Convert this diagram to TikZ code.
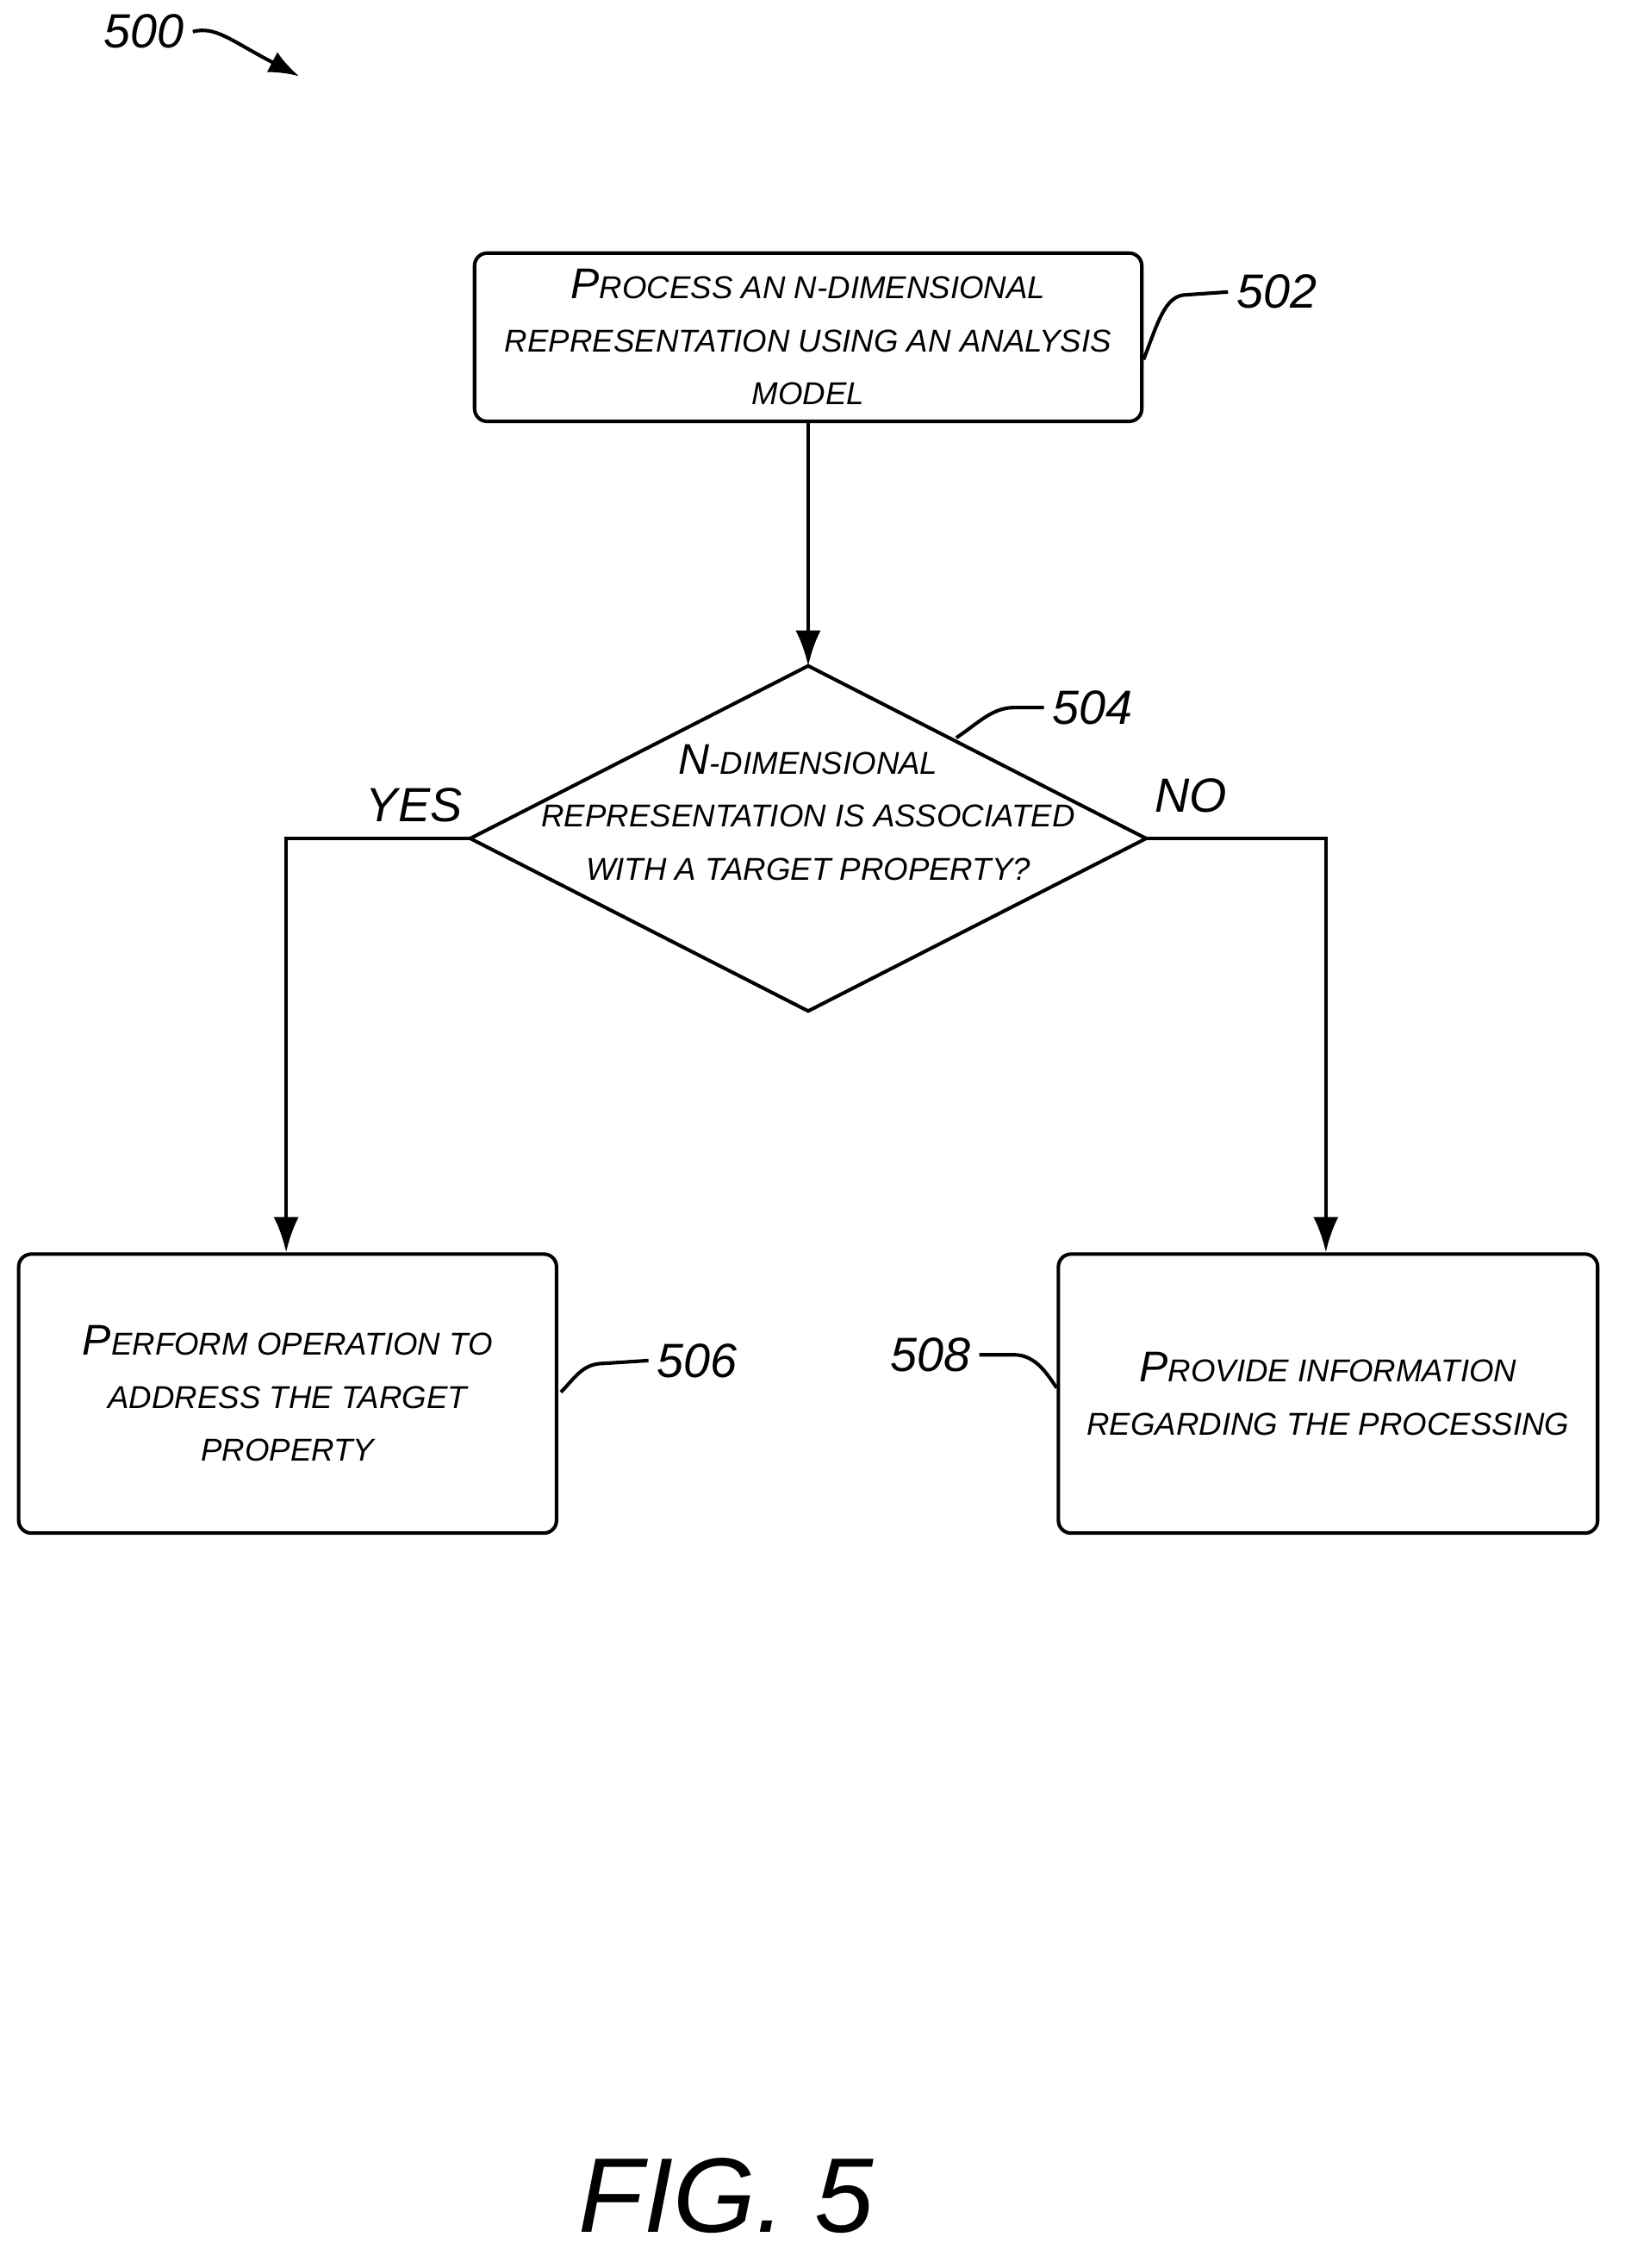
\documentclass[tikz,border=0pt]{standalone}
\usepackage{fontspec}
\setmainfont{Liberation Sans}
\usetikzlibrary{arrows.meta}
\newcommand\bc[1]{{\fontsize{17}{18}\selectfont #1}}
\begin{document}
\begin{tikzpicture}[x=0.02cm,y=-0.02cm,
  every node/.style={font=\itshape\fontsize{12.5}{21}\selectfont},
  box/.style={draw,line width=1.4pt,rounded corners=5pt,align=center,inner sep=2pt},
  ln/.style={line width=1.4pt},
  arr/.style={ln,-{Latex[length=14pt,width=10pt]}},
  num/.style={font=\itshape\fontsize{19}{22}\selectfont}]
\useasboundingbox (0,0) rectangle (1130,1577);
\node[box,minimum width=464*0.02cm,minimum height=117*0.02cm] (b502) at (562,234.5)
  {\bc{P}ROCESS AN N-DIMENSIONAL\\ REPRESENTATION USING AN ANALYSIS\\ MODEL};
\coordinate (dt) at (562,463); \coordinate (dl) at (327,583);
\coordinate (dr) at (797,583); \coordinate (db) at (562,703);
\draw[ln] (dt) -- (dr) -- (db) -- (dl) -- cycle;
\node[align=center] (dtext) at (562,565) {\bc{N}-DIMENSIONAL\\ REPRESENTATION IS ASSOCIATED\\ WITH A TARGET PROPERTY?};
\node[box,minimum width=374*0.02cm,minimum height=194*0.02cm] (b506) at (200,969)
  {\bc{P}ERFORM OPERATION TO\\ ADDRESS THE TARGET\\ PROPERTY};
\node[box,minimum width=375*0.02cm,minimum height=194*0.02cm] (b508) at (923.5,969)
  {\bc{P}ROVIDE INFORMATION\\ REGARDING THE PROCESSING};
\draw[arr] (b502.south) -- (dt);
\draw[arr] (dl) -| (b506.north -| 199,0);
\draw[arr] (dr) -| (b508.north -| 922,0);
\node[num] (yes) at (288,560) {YES};
\node[num] (no) at (828,553) {NO};
\node[num] (n500) at (100,22) {500};
\coordinate (a500) at (208,53);
\draw[arr,-{Latex[length=12pt,width=9pt]}] (n500.east) .. controls (150,18) and (160,28) .. (a500);
\node[num] (n502) at (888,203) {502};
\draw[ln] (b502.east |- 0,250) .. controls (805,225) and (810,205) .. (825,205) -- (n502.west);
\node[num] (n504) at (760,492) {504};
\draw[ln] (665,513) .. controls (680,503) and (690,492) .. (705,492) -- (n504.west);
\node[num] (n506) at (485,946) {506};
\draw[ln] (390,968) .. controls (400,958) and (405,948) .. (420,948) -- (n506.west);
\node[num] (n508) at (647,942) {508};
\draw[ln] (n508.east) -- (705,942) .. controls (720,942) and (728,955) .. (b508.west |- 0,965);
\node[font=\itshape\fontsize{42}{46}\selectfont] (fig) at (505,1527) {FIG. 5};
\end{tikzpicture}
\end{document}
